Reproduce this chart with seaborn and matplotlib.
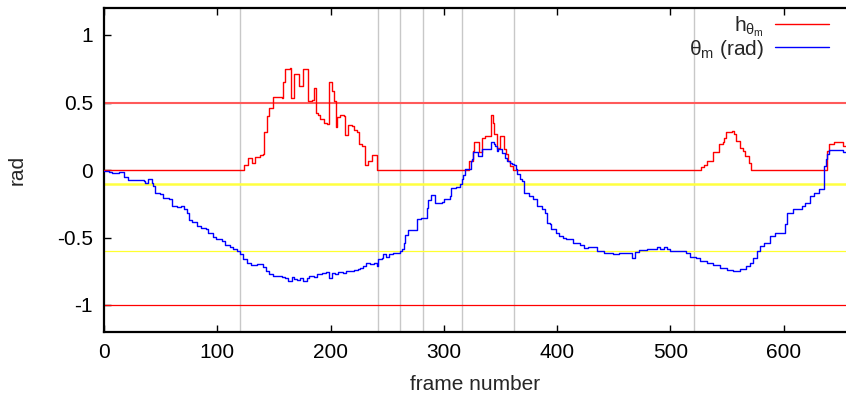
import matplotlib
matplotlib.use("Agg")
import matplotlib.pyplot as plt
import seaborn as sns
import pandas as pd

# h_theta_m : (frame, value)
h_frame = [0, 122, 124, 127, 129, 131, 132, 133, 138, 140, 141, 142, 144, 146, 148, 149, 154, 157, 158, 160,
           164, 165, 167, 168, 171, 172, 175, 176, 179, 180, 184, 185, 187, 189, 191, 194, 197, 199, 201, 203,
           205, 206, 208, 212, 213, 215, 219, 221, 223, 225, 228, 230, 232, 233, 237, 240, 241, 319, 322, 326,
           327, 329, 331, 333, 334, 336, 340, 342, 343, 344, 346, 347, 349, 350, 352, 353, 355, 357, 358, 361,
           525, 527, 530, 532, 535, 538, 541, 543, 546, 547, 549, 554, 556, 558, 561, 564, 566, 569, 571, 635,
           638, 640, 644, 650, 652, 655]
h_value = [0, 0, 0.04, 0.09, 0.09, 0.055, 0.055, 0.095, 0.11, 0.115, 0.28, 0.28, 0.40, 0.46, 0.46, 0.54, 0.54,
           0.535, 0.65, 0.745, 0.755, 0.53, 0.53, 0.71, 0.71, 0.625, 0.625, 0.745, 0.745, 0.51, 0.52, 0.61, 0.42,
           0.41, 0.375, 0.345, 0.34, 0.655, 0.585, 0.51, 0.32, 0.39, 0.405, 0.40, 0.26, 0.335, 0.325, 0.295,
           0.285, 0.19, 0.18, 0.035, 0.035, 0.065, 0.11, 0.11, 0, 0, 0.065, 0.14, 0.205, 0.205, 0.13, 0.13, 0.24,
           0.255, 0.255, 0.41, 0.35, 0.265, 0.265, 0.165, 0.165, 0.255, 0.255, 0.155, 0.115, 0.065, 0.03, 0,
           0, 0.02, 0.035, 0.065, 0.07, 0.13, 0.135, 0.19, 0.205, 0.24, 0.285, 0.29, 0.265, 0.215, 0.165, 0.14,
           0.105, 0.055, 0, 0, 0.14, 0.195, 0.21, 0.21, 0.18, 0.18]

# theta_m (rad) : (frame, value)
theta_frame = [0, 4, 7, 10, 13, 17, 18, 21, 26, 29, 35, 36, 38, 39, 41, 42, 43, 45, 49, 52, 57, 60, 64, 68, 71,
               73, 75, 78, 82, 86, 90, 92, 96, 99, 104, 107, 111, 114, 117, 120, 123, 126, 130, 135, 140, 143,
               146, 149, 155, 157, 160, 162, 165, 166, 168, 170, 173, 176, 179, 181, 185, 188, 192, 196, 199, 201,
               204, 207, 211, 214, 217, 221, 224, 226, 229, 231, 235, 238, 241, 242, 245, 246, 249, 252, 255, 258,
               261, 263, 265, 266, 268, 274, 276, 280, 283, 285, 286, 289, 291, 292, 298, 300, 303, 305, 306, 311,
               314, 316, 317, 319, 322, 324, 325, 326, 329, 330, 332, 334, 338, 340, 342, 344, 345, 347, 348, 350,
               351, 353, 354, 356, 358, 360, 362, 364, 365, 367, 369, 371, 375, 379, 382, 387, 389, 391, 394, 395,
               399, 402, 405, 408, 414, 420, 424, 427, 435, 441, 449, 455, 461, 466, 469, 472, 479, 485, 488, 491,
               494, 497, 500, 508, 514, 517, 523, 526, 532, 538, 544, 550, 555, 561, 567, 570, 573, 576, 579, 583,
               588, 592, 600, 601, 603, 608, 616, 619, 623, 627, 631, 635, 636, 637, 638, 640, 648, 652, 655]
theta_value = [-0.005, -0.012, -0.02, -0.024, -0.015, -0.015, -0.055, -0.073, -0.073, -0.076, -0.081, -0.099,
               -0.099, -0.064, -0.064, -0.099, -0.118, -0.168, -0.18, -0.204, -0.217, -0.267, -0.271, -0.267,
               -0.286, -0.321, -0.37, -0.385, -0.415, -0.427, -0.44, -0.469, -0.494, -0.513, -0.526, -0.558,
               -0.568, -0.587, -0.6, -0.624, -0.657, -0.691, -0.706, -0.699, -0.716, -0.748, -0.773, -0.785,
               -0.785, -0.79, -0.797, -0.822, -0.822, -0.79, -0.805, -0.815, -0.797, -0.822, -0.797, -0.785,
               -0.79, -0.773, -0.765, -0.756, -0.797, -0.765, -0.773, -0.756, -0.76, -0.748, -0.748, -0.741,
               -0.736, -0.723, -0.711, -0.686, -0.699, -0.691, -0.711, -0.661, -0.649, -0.624, -0.641, -0.624,
               -0.617, -0.612, -0.6, -0.582, -0.538, -0.484, -0.444, -0.444, -0.365, -0.353, -0.353, -0.279,
               -0.222, -0.185, -0.185, -0.242, -0.237, -0.217, -0.217, -0.193, -0.136, -0.123, -0.106, -0.069,
               -0.039, 0.005, 0.005, 0.067, 0.079, 0.133, 0.133, 0.104, 0.104, 0.153, 0.158, 0.158, 0.207, 0.19,
               0.178, 0.141, 0.158, 0.158, 0.129, 0.129, 0.092, 0.067, 0.055, 0.042, 0.035, 0.01, -0.032, -0.064,
               -0.081, -0.168, -0.193, -0.217, -0.267, -0.291, -0.316, -0.39, -0.402, -0.439, -0.464, -0.489,
               -0.501, -0.513, -0.538, -0.558, -0.575, -0.573, -0.6, -0.617, -0.624, -0.612, -0.617, -0.649,
               -0.607, -0.593, -0.582, -0.582, -0.568, -0.582, -0.568, -0.582, -0.6, -0.6, -0.612, -0.641,
               -0.649, -0.674, -0.691, -0.706, -0.723, -0.741, -0.748, -0.73, -0.711, -0.686, -0.649, -0.6,
               -0.563, -0.538, -0.489, -0.464, -0.464, -0.402, -0.316, -0.291, -0.267, -0.242, -0.193, -0.168,
               -0.138, -0.138, 0.03, 0.079, 0.121, 0.148, 0.148, 0.133, 0.133]

# reference levels and marked frames
thresholds_red = [0.5, -1.0]
threshold_yellow_main = -0.1
threshold_yellow_low = -0.6
marked_frames = [120, 242, 261, 282, 316, 362, 521]

x_ticks = [0, 100, 200, 300, 400, 500, 600]
y_ticks = [-1, -0.5, 0, 0.5, 1]
y_tick_labels = ["-1", "-0.5", "0", "0.5", "1"]

sns.set_style("white")
plt.rcParams["font.family"] = ["Liberation Sans", "DejaVu Sans"]
plt.rcParams["mathtext.fontset"] = "custom"
plt.rcParams["mathtext.rm"] = "Liberation Sans"
plt.rcParams["mathtext.it"] = "Liberation Sans"

FS = 15

fig = plt.figure(figsize=(8.46, 3.99), dpi=100)
ax = fig.add_axes([104 / 846, 1 - 332 / 399, 1 - 104 / 846, (332 - 8) / 399])

for f in marked_frames:
    ax.axvline(f, color="#c8c8c8", lw=1.0, zorder=1)
ax.axhline(thresholds_red[0], color="#ff5a5a", lw=1.5, zorder=2)
ax.axhline(thresholds_red[1], color="#ff0000", lw=0.9, zorder=2)
ax.axhline(threshold_yellow_main, color="#ffff40", lw=1.8, zorder=2)
ax.axhline(threshold_yellow_low, color="#ffff30", lw=0.9, zorder=2)

h_df = pd.DataFrame({"frame": h_frame, "value": h_value})
t_df = pd.DataFrame({"frame": theta_frame, "value": theta_value})
sns.lineplot(data=h_df, x="frame", y="value", ax=ax, color="#ff0000", lw=1.0, sort=False,
             estimator=None, drawstyle="steps-post", label=r"h$_{\theta_{\rm m}}$", zorder=3)
sns.lineplot(data=t_df, x="frame", y="value", ax=ax, color="#0000ff", lw=1.0, sort=False,
             estimator=None, drawstyle="steps-post", label=r"$\theta_{\rm m}$ (rad)", zorder=4)

ax.set_xlim(0, 655)
ax.set_ylim(-1.2, 1.2)
ax.set_xticks(x_ticks)
ax.set_xticklabels([str(v) for v in x_ticks])
ax.set_yticks(y_ticks)
ax.set_yticklabels(y_tick_labels)
ax.tick_params(axis="both", direction="in", length=5, width=1, labelsize=FS, colors="black",
               top=True, bottom=True, left=True, right=False, pad=8)
for side in ["left", "bottom", "top"]:
    ax.spines[side].set_visible(True)
    ax.spines[side].set_color("black")
    ax.spines[side].set_linewidth(1.6)
ax.spines["right"].set_visible(False)

ax.set_xlabel("frame number", fontsize=FS, labelpad=9)
ax.set_ylabel("rad", fontsize=FS, labelpad=22)

leg = ax.legend(loc="upper right", bbox_to_anchor=(0.994, 1.02), frameon=False, markerfirst=False,
                fontsize=FS, handlelength=2.6, handletextpad=0.55, labelspacing=-0.05,
                borderaxespad=0.2)

fig.savefig("out.png", dpi=100)
